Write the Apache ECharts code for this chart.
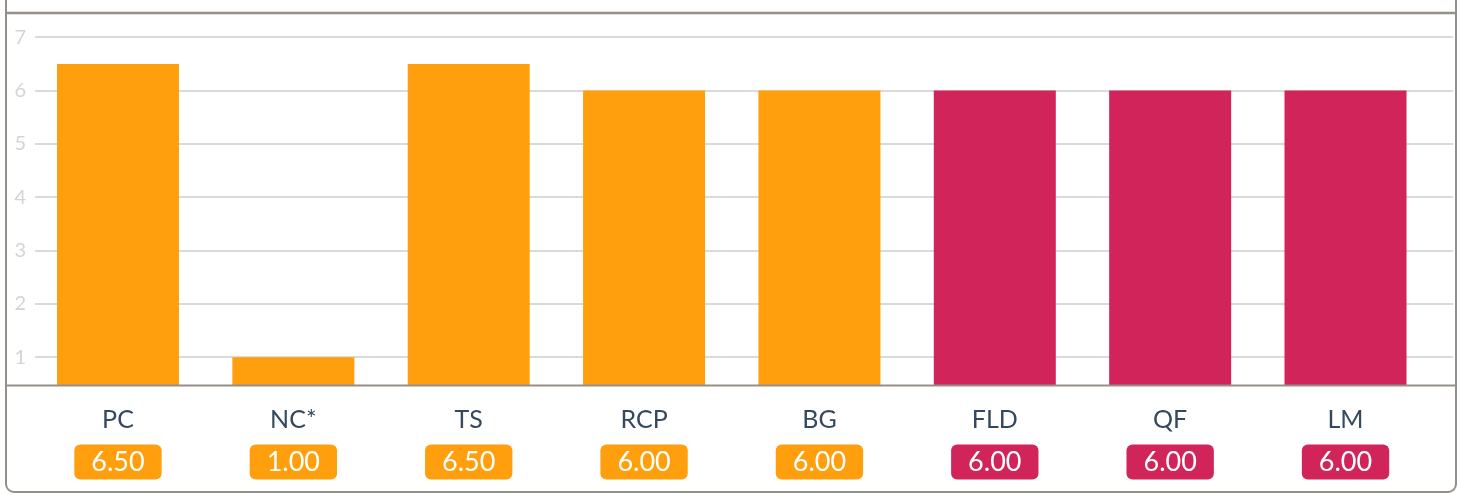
<!DOCTYPE html>
<html>
<head>
<meta charset="utf-8">
<script src="https://cdn.jsdelivr.net/npm/echarts@6/dist/echarts.min.js"></script>
<style>
html,body{margin:0;padding:0;background:#fff;}
#c{width:1461px;height:495px;}
</style>
</head>
<body>
<div id="c"></div>
<script>
const categories = ['PC', 'NC*', 'TS', 'RCP', 'BG', 'FLD', 'QF', 'LM'];
const values = [6.5, 1.0, 6.5, 6.0, 6.0, 6.0, 6.0, 6.0];
const groups = ['o', 'o', 'o', 'o', 'o', 'r', 'r', 'r'];
const yTicks = [1, 2, 3, 4, 5, 6, 7];

const COLORS = { o: '#FF9F0E', r: '#D1245A' };
const FONT = 'Lato, "Open Sans", sans-serif';
const Y_MIN = 0.47, Y_MAX = 7.454;
const GRID_TOP = 13, GRID_H = 372.5;

const chart = echarts.init(document.getElementById('c'), null, { renderer: 'canvas' });

const badgeStyle = (c) => ({
  color: '#fff', backgroundColor: c, borderRadius: 6,
  fontSize: 27, fontFamily: FONT, lineHeight: 29, padding: [4, 17, 4, 17]
});

chart.setOption({
  animation: false,
  backgroundColor: '#fff',
  grid: [
    { left: 35, right: 8, top: GRID_TOP, height: GRID_H },
    { left: 30.3, right: 27.8, top: GRID_TOP, height: GRID_H }
  ],
  xAxis: [
    { gridIndex: 0, type: 'value', show: false, min: 0, max: 1 },
    {
      gridIndex: 1, type: 'category', data: categories,
      axisLine: { show: false }, axisTick: { show: false },
      axisLabel: {
        margin: 19,
        formatter: (v, i) => `{name|${v}}\n{gap|}\n{${groups[i]}|${values[i].toFixed(2)}}`,
        rich: {
          name: { fontSize: 25, fontFamily: FONT, color: '#34495e', lineHeight: 30 },
          gap: { fontSize: 1, lineHeight: 13 },
          o: badgeStyle(COLORS.o),
          r: badgeStyle(COLORS.r)
        }
      }
    }
  ],
  yAxis: [
    {
      gridIndex: 0, type: 'value', min: Y_MIN, max: Y_MAX,
      axisLine: { show: false },
      axisTick: { show: false, customValues: yTicks },
      axisLabel: { customValues: yTicks, color: '#d4d4d4', fontSize: 20, fontFamily: FONT, margin: 9 },
      splitLine: { show: true, lineStyle: { color: '#dadada', width: 2 } }
    },
    { gridIndex: 1, type: 'value', min: Y_MIN, max: Y_MAX, show: false, splitLine: { show: false } }
  ],
  series: [{
    type: 'bar', xAxisIndex: 1, yAxisIndex: 1,
    barWidth: 122,
    data: values.map((v, i) => ({ value: v, itemStyle: { color: COLORS[groups[i]] } })),
    z: 3
  }],
  graphic: [
    { type: 'rect', silent: true, z: 100,
      shape: { x: 6, y: -30, width: 1450, height: 522, r: 8 },
      style: { fill: 'none', stroke: '#958f89', lineWidth: 2 } },
    { type: 'line', silent: true, z: 100,
      shape: { x1: 6, y1: 13, x2: 1456, y2: 13 },
      style: { stroke: '#958f89', lineWidth: 2.5 } },
    { type: 'line', silent: true, z: 100,
      shape: { x1: 6, y1: 385.5, x2: 1456, y2: 385.5 },
      style: { stroke: '#958f89', lineWidth: 2 } }
  ]
});
</script>
</body>
</html>
